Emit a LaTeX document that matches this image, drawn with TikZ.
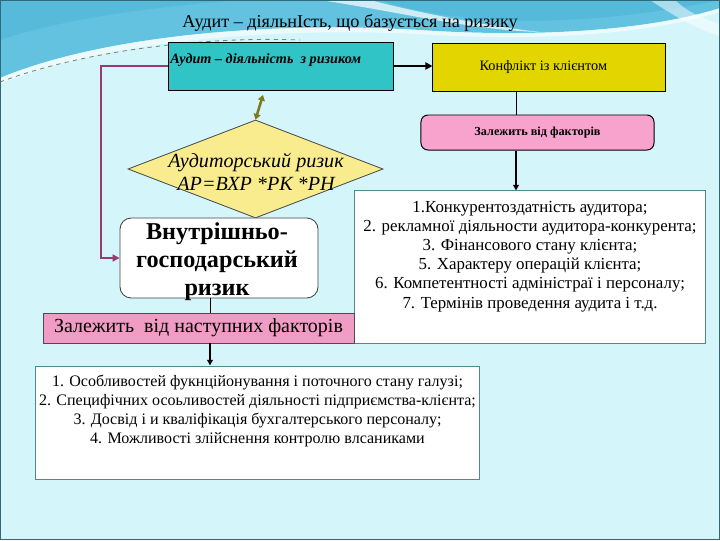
\documentclass[tikz,border=0pt]{standalone}
\usepackage{fontspec}
\setmainfont{Liberation Serif}
\usepackage{tikz}
\usetikzlibrary{arrows.meta,shapes.geometric}
\definecolor{pagebg}{HTML}{D4F6FB}
\definecolor{wave}{HTML}{62C2DF}
\definecolor{wavedeep}{HTML}{3FA9D2}
\definecolor{frameteal}{HTML}{2F6A78}
\definecolor{boxcyan}{HTML}{30C4C6}
\definecolor{boxyellow}{HTML}{E3D600}
\definecolor{boxpink}{HTML}{F7A3CE}
\definecolor{barpink}{HTML}{F09CC4}
\definecolor{diamyellow}{HTML}{F8EC8E}
\definecolor{plum}{HTML}{9A3A6E}
\definecolor{olivearr}{HTML}{7E7A1E}
\definecolor{listedge}{HTML}{4E8A88}

\tikzset{
  flatbox/.style={draw=black,line width=.7pt,inner sep=2pt},
  listbox/.style={draw=listedge,line width=.7pt,fill=white},
  listtext/.style={align=center,inner sep=0pt,font=\fontsize{11.4}{13.6}\selectfont},
  link/.style={line width=.7pt},
  downarrow/.style={line width=1.1pt,-{Triangle[length=4pt,width=4pt]}},
}

\begin{document}
\begin{tikzpicture}[x=0.025cm,y=-0.025cm]
  \useasboundingbox (0,0) rectangle (720,540);
  \fill[pagebg] (0,0) rectangle (720,540);

  \fill[wave] (0,0) -- (0,78) .. controls (90,40) and (250,20) .. (420,30)
    .. controls (540,38) and (650,30) .. (720,8) -- (720,0) -- cycle;
  \fill[wavedeep,opacity=.35] (380,0) .. controls (470,30) and (600,25) .. (720,0) -- cycle;
  \fill[wavedeep,opacity=.3] (0,0) -- (0,40) .. controls (60,20) and (140,8) .. (240,0) -- cycle;
  \fill[white,opacity=.55] (0,84) .. controls (90,46) and (250,26) .. (420,34)
    .. controls (540,42) and (650,34) .. (720,12) -- (720,8)
    .. controls (650,30) and (540,38) .. (420,30)
    .. controls (250,20) and (90,40) .. (0,78) -- cycle;
  \fill[white,opacity=.7] (320,0) .. controls (400,12) and (470,30) .. (540,32)
    .. controls (470,24) and (400,8) .. (370,0) -- cycle;
  \fill[white,opacity=.5] (650,0) .. controls (680,20) and (700,30) .. (720,36) -- (720,24)
    .. controls (700,18) and (685,10) .. (675,0) -- cycle;
  \draw[gray,dashed,line width=.6pt] (0,82) .. controls (80,52) and (200,36) .. (300,40);
  \draw[frameteal,line width=1.2pt] (.6,.6) rectangle (719.4,539.4);

  \node[font=\fontsize{12.9}{14}\selectfont] (title) at (350,23)
    {Аудит – діяльнІсть, що базується на ризику};

  \node[flatbox,fill=boxcyan,minimum width=5.6cm,minimum height=1.2cm] (risky) at (281,66) {};
  \node[anchor=west,inner sep=0pt,font=\fontsize{10.1}{12}\selectfont\bfseries\itshape]
    (riskytxt) at (170,60) {Аудит – діяльність\ \ з ризиком};
  \node[flatbox,fill=boxyellow,minimum width=5.8cm,minimum height=1.2cm,inner xsep=0pt,
    font=\fontsize{10.2}{12}\selectfont] (conflict) at (549,67)
    {\hspace*{-8pt}Конфлікт із клієнтом};
  \node[flatbox,fill=boxpink,rounded corners=5pt,minimum width=5.825cm,minimum height=.875cm,
    font=\fontsize{8.7}{10}\selectfont\bfseries] (clientfac) at (537.5,132.5) {Залежить від факторів};

  \node[listbox,minimum width=8.75cm,minimum height=3.8cm] (clientlist) at (530,267) {};
  \node[listtext,font=\fontsize{12}{13.6}\selectfont,anchor=north] (clientlisttxt)
    at ([yshift=-7.5pt]clientlist.north) {%
    1.Конкурентоздатність аудитора;\\
    2. рекламної діяльности аудитора-конкурента;\\
    3. Фінансового стану клієнта;\\
    5. Характеру операцій клієнта;\\
    6. Компетентності адміністраї і персоналу;\\
    7. Термінів проведення аудита і т.д.};

  \node[diamond,draw=black!70,line width=.6pt,fill=diamyellow,inner sep=0pt,
    minimum width=6.375cm,minimum height=2.45cm] (auditrisk) at (255.5,169) {};
  \node[align=center,inner sep=0pt,font=\fontsize{14.3}{16.5}\selectfont\itshape]
    (auditrisktxt) at (256,172) {Аудиторський ризик\\АР=ВХР *РК *РН};

  \node[draw=black!75,line width=.6pt,fill=white,rounded corners=8pt,
    minimum width=4.95cm,minimum height=2cm,inner sep=0pt] (inherent) at (219,258) {};
  \node[align=center,inner sep=0pt,font=\fontsize{17.2}{19.8}\selectfont\bfseries]
    (inherenttxt) at (217,262) {Внутрішньо-\\господарський\\ризик};

  \node[draw=black!70,line width=.6pt,fill=barpink,minimum width=7.775cm,minimum height=.75cm,
    inner sep=0pt,font=\fontsize{14.2}{15}\selectfont] (nextfac) at (198.5,328)
    {Залежить\ \ від наступних факторів};

  \node[listbox,minimum width=11.075cm,minimum height=2.825cm] (inherlist) at (257.5,422.5) {};
  \node[listtext,anchor=north] (inherlisttxt) at ([yshift=-6.5pt]inherlist.north) {%
    1. Особливостей фукнційонування і поточного стану галузі;\\
    2. Специфічних осоьливостей діяльності підприємства-клієнта;\\
    3. Досвід і и кваліфікація бухгалтерського персоналу;\\
    4. Можливості злійснення контролю влсаниками};

  \coordinate (rspine) at (516,0);
  \coordinate (lspine) at (210,0);
  \coordinate (trunk) at (101,0);
  \coordinate (olivetop) at (263,95);

  \draw[line width=1.6pt,-{Triangle[length=5pt,width=5pt]}] (risky.east) -- (conflict.west |- risky.east);
  \draw[link] (conflict.south -| rspine) -- (clientfac.north -| rspine);
  \draw[downarrow] (clientfac.south -| rspine) -- (clientlist.north -| rspine);
  \draw[plum,line width=1.6pt,-{Triangle[length=5pt,width=5pt]}]
    (risky.west) -- (risky.west -| trunk) |- (inherent.west);
  \draw[olivearr,line width=1.8pt,{Triangle[length=4pt,width=5pt]}-{Triangle[length=4pt,width=5pt]}]
    (olivetop) -- (auditrisk.north);
  \draw[link] (inherent.south -| lspine) -- (nextfac.north -| lspine);
  \draw[downarrow] (nextfac.south -| lspine) -- (inherlist.north -| lspine);
\end{tikzpicture}
\end{document}
